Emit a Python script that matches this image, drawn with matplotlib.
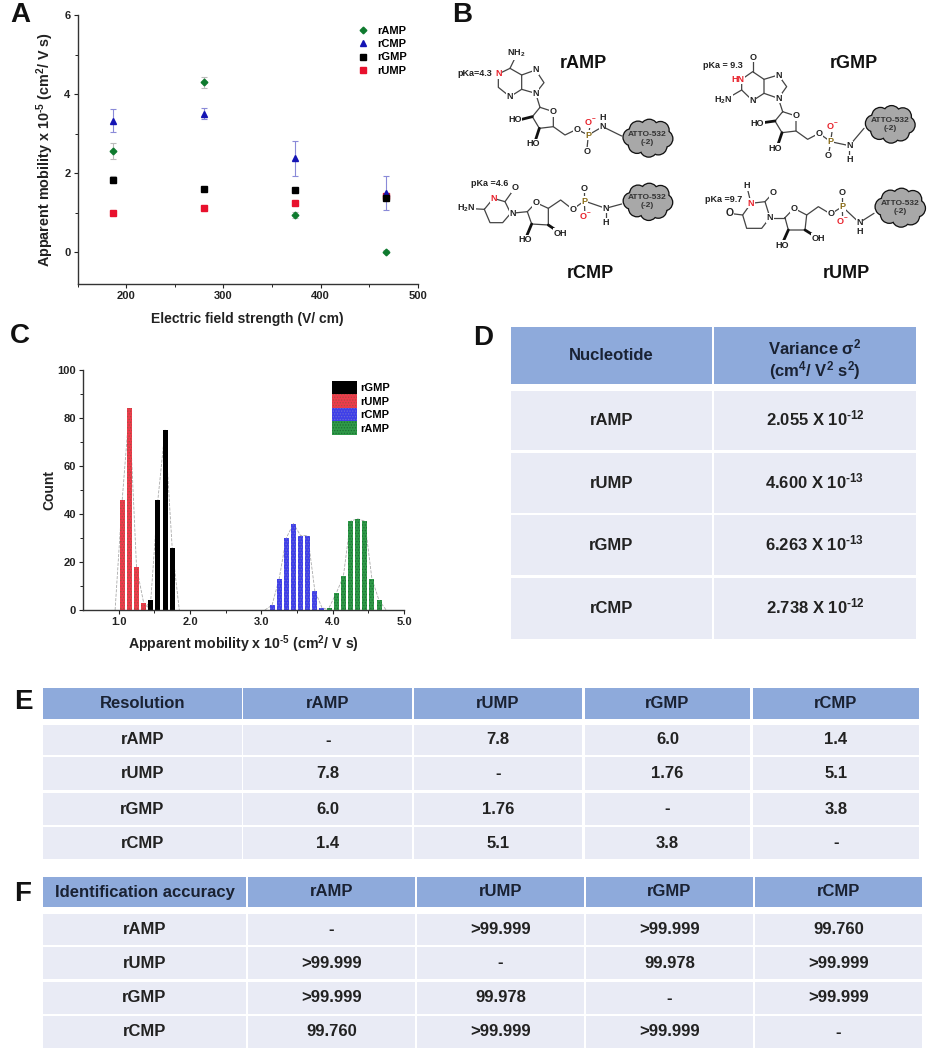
import matplotlib
matplotlib.use("Agg")
import matplotlib.pyplot as plt
from matplotlib.lines import Line2D
from matplotlib.patches import Rectangle, Circle, Patch

plt.rcParams["font.family"] = ["Liberation Sans", "DejaVu Sans"]
plt.rcParams["font.weight"] = "bold"
plt.rcParams["mathtext.fontset"] = "custom"
plt.rcParams["mathtext.rm"] = "Liberation Sans:bold"
plt.rcParams["mathtext.default"] = "rm"
plt.rcParams["hatch.linewidth"] = 0.6

W, H = 929, 1050
DARK = "#222222"
HEAD = "#8eaadb"
ROW = "#e9ebf5"

# panel A data
field = [187, 280.5, 374, 467]
amp_mob = [2.57, 4.3, 0.95, 0.02]
amp_err = [0.2, 0.14, 0.08, 0.04]
cmp_mob = [3.33, 3.5, 2.38, 1.5]
cmp_err = [0.3, 0.14, 0.44, 0.42]
gmp_mob = [1.84, 1.61, 1.57, 1.38]
gmp_err = [0.08, 0.05, 0.05, 0.05]
ump_mob = [1.0, 1.13, 1.24, 1.42]
ump_err = [0.05, 0.05, 0.05, 0.05]

# panel C data
ump_bins = [0.95, 1.05, 1.15, 1.25, 1.35, 1.45]
ump_count = [0, 46, 84, 18, 3, 0]
gmp_bins = [1.35, 1.45, 1.55, 1.65, 1.75, 1.85]
gmp_count = [0, 4, 46, 75, 26, 0]
cmp_bins = [3.05, 3.15, 3.25, 3.35, 3.45, 3.55, 3.65, 3.75, 3.85, 3.95]
cmp_count = [0, 2, 13, 30, 36, 31, 31, 8, 1, 0]
amp_bins = [3.95, 4.05, 4.15, 4.25, 4.35, 4.45, 4.55, 4.65, 4.75]
amp_count = [1, 7, 14, 37, 38, 37, 13, 4, 0]

# tables
variance_names = ["rAMP", "rUMP", "rGMP", "rCMP"]
variance_vals = ["2.055 X 10$^{\\text{-12}}$", "4.600 X 10$^{\\text{-13}}$", "6.263 X 10$^{\\text{-13}}$", "2.738 X 10$^{\\text{-12}}$"]
nucleotides = ["rAMP", "rUMP", "rGMP", "rCMP"]
resolution = [["-", "7.8", "6.0", "1.4"],
              ["7.8", "-", "1.76", "5.1"],
              ["6.0", "1.76", "-", "3.8"],
              ["1.4", "5.1", "3.8", "-"]]
accuracy = [["-", ">99.999", ">99.999", "99.760"],
            [">99.999", "-", "99.978", ">99.999"],
            [">99.999", "99.978", "-", ">99.999"],
            ["99.760", ">99.999", ">99.999", "-"]]

MOBILITY_LABEL = "Apparent mobility x 10$^{\\text{-5}}$ (cm$^{2}$/ V s)"

fig = plt.figure(figsize=(W / 100, H / 100), dpi=100)


def axes_px(left, top, right, bottom):
    return fig.add_axes([left / W, 1 - bottom / H, (right - left) / W, (bottom - top) / H])


def style(ax):
    for s in ["top", "right"]:
        ax.spines[s].set_visible(False)
    for s in ["left", "bottom"]:
        ax.spines[s].set_color("#333333")
        ax.spines[s].set_linewidth(1.0)
    ax.tick_params(which="major", length=3, width=0.8, labelsize=8, pad=2, colors=DARK)
    ax.tick_params(which="minor", length=2, width=0.7, colors=DARK)


# A: scatter, rUMP goes under rCMP and rGMP where they overlap
ax_a = axes_px(77.5, 15, 418, 284)
series = {"rAMP": (amp_mob, amp_err, "D", "#0e7a2e", 3.4),
          "rUMP": (ump_mob, ump_err, "s", "#e8112d", 4),
          "rCMP": (cmp_mob, cmp_err, "^", "#1414b4", 5),
          "rGMP": (gmp_mob, gmp_err, "s", "black", 4)}
for name, (y, err, mk, col, ms) in series.items():
    ax_a.errorbar(field, y, yerr=err, fmt=mk, color=col, ms=ms, ecolor="#8a8ad8" if name == "rCMP" else "#bbbbbb",
                  elinewidth=0.8, capsize=2, capthick=0.8, linestyle="none")
ax_a.set_xlim(150, 500)
ax_a.set_ylim(-0.8, 6)
ax_a.set_xticks([200, 300, 400, 500])
ax_a.set_xticks([150, 250, 350, 450], minor=True)
ax_a.set_yticks([0, 2, 4, 6])
ax_a.set_yticks([1, 3, 5], minor=True)
style(ax_a)
ax_a.set_xlabel("Electric field strength (V/ cm)", fontsize=10, fontweight="bold", labelpad=8, color=DARK)
ax_a.set_ylabel(MOBILITY_LABEL, fontsize=10.4, fontweight="bold", labelpad=6, color=DARK)
a_handles = [Line2D([], [], linestyle="none", marker=series[n][2], color=series[n][3], ms=series[n][4], label=n)
             for n in ["rAMP", "rCMP", "rGMP", "rUMP"]]
ax_a.legend(handles=a_handles, loc="upper left", bbox_to_anchor=(0.822, 0.96), frameon=False, fontsize=8,
            handlelength=1, handletextpad=0.76, labelspacing=0.3, borderpad=0, borderaxespad=0)

# C: histograms
ax_c = axes_px(83, 370, 404, 610)
bars = [("rGMP", gmp_bins, gmp_count, "black", "black", ""),
        ("rUMP", ump_bins, ump_count, "#ee3b4c", "#a8503f", "......"),
        ("rCMP", cmp_bins, cmp_count, "#3f3fe8", "#6a6ad8", "......"),
        ("rAMP", amp_bins, amp_count, "#2f9a48", "#1c6e34", "......")]
for name, b, c, face, edge, hatch in bars:
    ax_c.plot(b, c, color="#aaaaaa", lw=0.6, ls="--", zorder=1)
    ax_c.bar(b, c, width=0.07, color=face, edgecolor=edge, hatch=hatch, linewidth=0, zorder=2)
ax_c.set_xlim(0.5, 5.0)
ax_c.set_ylim(0, 100)
ax_c.set_xticks([1, 2, 3, 4, 5])
ax_c.set_xticklabels(["1.0", "2.0", "3.0", "4.0", "5.0"])
ax_c.set_xticks([1.5, 2.5, 3.5, 4.5], minor=True)
ax_c.set_yticks([0, 20, 40, 60, 80, 100])
ax_c.set_yticks([10, 30, 50, 70, 90], minor=True)
style(ax_c)
ax_c.set_xlabel(MOBILITY_LABEL, fontsize=10.2, fontweight="bold", labelpad=5, color=DARK)
ax_c.set_ylabel("Count", fontsize=10, fontweight="bold", labelpad=1, color=DARK)
leg_handles = [Patch(facecolor=f, edgecolor=e, hatch=h, linewidth=0, label=n) for n, _, _, f, e, h in bars]
ax_c.legend(handles=leg_handles, loc="upper left", bbox_to_anchor=(0.775, 0.955), frameon=False, fontsize=8,
            handlelength=2.25, handleheight=1.49, labelspacing=0.0, handletextpad=0.35, borderpad=0, borderaxespad=0)

# overlay in picture pixels for tables, panel letters and structures
ov = fig.add_axes([0, 0, 1, 1], zorder=5)
ov.set_xlim(0, W)
ov.set_ylim(H, 0)
ov.axis("off")
ov.patch.set_alpha(0)

for letter, x, y in [("A", 10, 22), ("B", 452, 22), ("C", 10, 343), ("D", 473, 345), ("E", 14, 709), ("F", 14, 901)]:
    ov.text(x, y, letter, fontsize=20, fontweight="bold", va="baseline", ha="left", color="#111111")


def cell(x0, x1, y0, y1, color, text=None, size=12, tcolor=DARK, lift=1.5):
    ov.add_patch(Rectangle((x0, y0), x1 - x0, y1 - y0, facecolor=color, edgecolor="none"))
    if text is not None:
        ov.text((x0 + x1) / 2, (y0 + y1) / 2 - lift, text, ha="center", va="center_baseline", fontsize=size,
                fontweight="bold", color=tcolor, linespacing=1.05)


# D: variance table
dx = [(511, 712), (714, 916)]
cell(*dx[0], 327, 384, HEAD, "Nucleotide", 12, "#1a2233")
cell(*dx[1], 327, 384, HEAD, "Variance σ$^{2}$\n(cm$^{4}$/ V$^{2}$ s$^{2}$)", 12, "#1a2233", lift=-1)
d_rows = [(391, 450), (453, 513), (515, 575), (578, 639)]
for (y0, y1), nm, val in zip(d_rows, variance_names, variance_vals):
    cell(*dx[0], y0, y1, ROW, nm, 12)
    cell(*dx[1], y0, y1, ROW, val, 12, lift=3.5)


def grid_table(xs, head_y, rows_y, corner, values):
    heads = [corner] + nucleotides
    for (x0, x1), t in zip(xs, heads):
        cell(x0, x1, head_y[0], head_y[1], HEAD, t, 12, "#1a2233")
    for i, (y0, y1) in enumerate(rows_y):
        cell(xs[0][0], xs[0][1], y0, y1, ROW, nucleotides[i], 12)
        for j in range(4):
            cell(xs[j + 1][0], xs[j + 1][1], y0, y1, ROW, values[i][j], 12)


grid_table([(43, 242), (243.5, 412), (414, 582), (585, 750), (753, 919)], (688, 719),
           [(725, 755), (757, 790), (793, 825), (827, 859)], "Resolution", resolution)
grid_table([(43, 246), (248, 415), (417, 584), (586, 753), (755, 922)], (877, 907),
           [(914, 945), (947, 979), (982, 1014), (1016, 1048)], "Identification accuracy", accuracy)


# B: structures, coordinates are in a 3x sketch space of the panel
def sx(x):
    return 440 + x / 3


def sy(y):
    return y / 3


def bonds(chain, lw=0.9, color="#444444"):
    ov.plot([sx(p[0]) for p in chain], [sy(p[1]) for p in chain], color=color, lw=lw, solid_capstyle="round", zorder=6)


def atom(x, y, t, color="#222222", size=6.5):
    ov.text(sx(x), sy(y), t, fontsize=size, fontweight="bold", color=color, ha="center", va="center", zorder=7,
            bbox=dict(facecolor="white", edgecolor="none", pad=0.3))


def wedge(a, b):
    bonds([a, b], lw=2.0, color="#111111")


def cloud(x0, y0, x1, y1, t):
    w, h = (x1 - x0) / 3, (y1 - y0) / 3
    cx, cy = sx((x0 + x1) / 2), sy((y0 + y1) / 2)
    lobes = [(-0.3, -0.02, 0.25), (-0.18, -0.22, 0.25), (0.03, -0.27, 0.25), (0.24, -0.21, 0.25), (0.31, 0.02, 0.25),
             (0.2, 0.22, 0.25), (0.02, 0.28, 0.25), (-0.2, 0.18, 0.25), (0, 0, 0.4)]
    for dxx, dyy, r in lobes:
        ov.add_patch(Circle((cx + dxx * w, cy + dyy * h), r * h, facecolor="#111111", edgecolor="none", zorder=6))
    for dxx, dyy, r in lobes:
        ov.add_patch(Circle((cx + dxx * w, cy + dyy * h), r * h - 1.3, facecolor="#a8a8a8", edgecolor="none", zorder=6.1))
    ov.text(cx, cy, t + "\n(-2)", fontsize=6, fontweight="bold", ha="center", va="center", color="#333333", zorder=7)


def sugar(c1, o, c4, c3, c2, c5, o5, p, ho2, ho3):
    bonds([c1, o, c4, c3, c2, c1])
    bonds([c4, c5, o5, p])
    wedge(c2, ho2)
    wedge(c3, ho3)


RED = "#e8202a"
PHOS = "#8a6d1a"

# rAMP
bonds([(175, 222), (175, 262), (210, 290), (245, 268), (245, 225), (210, 205), (175, 222)])
bonds([(245, 225), (287, 210), (312, 248), (287, 280), (245, 268)])
bonds([(210, 205), (228, 168)])
bonds([(287, 280), (300, 322)])
sugar((300, 322), (340, 335), (340, 380), (298, 385), (277, 350), (375, 405), (410, 388), (445, 405), (245, 358), (285, 425))
bonds([(445, 405), (452, 368)])
bonds([(445, 405), (440, 456)])
bonds([(445, 405), (488, 380), (545, 408)])
bonds([(488, 380), (488, 352)])
atom(230, 160, "NH$_{2}$")
atom(175, 222, "N", RED)
atom(210, 290, "N")
atom(287, 210, "N")
atom(287, 280, "N")
atom(340, 335, "O")
atom(225, 358, "HO")
atom(278, 432, "HO")
atom(410, 388, "O")
atom(445, 405, "P", PHOS)
atom(452, 368, "O$^{-}$", RED)
atom(440, 456, "O")
atom(488, 380, "N")
atom(488, 352, "H")
atom(105, 220, "pKa=4.3", size=6.5)
cloud(543, 358, 703, 470, "ATTO-532")

# rGMP
bonds([(905, 238), (905, 270), (938, 302), (972, 280), (972, 238), (938, 215), (905, 238)])
bonds([(972, 238), (1015, 225), (1040, 260), (1015, 295), (972, 280)])
bonds([(938, 215), (938, 172)])
bonds([(905, 270), (850, 302)])
bonds([(1015, 295), (1028, 335)])
sugar((1028, 335), (1068, 348), (1068, 393), (1026, 398), (1005, 363), (1103, 418), (1137, 400), (1172, 425), (955, 370), (1010, 445))
bonds([(1172, 425), (1178, 380)])
bonds([(1172, 425), (1165, 468)])
bonds([(1172, 425), (1228, 437), (1272, 385)])
bonds([(1228, 437), (1228, 480)])
atom(938, 172, "O")
atom(893, 238, "HN", RED)
atom(850, 302, "H$_{2}$N")
atom(938, 302, "N")
atom(1015, 225, "N")
atom(1015, 295, "N")
atom(1068, 348, "O")
atom(952, 370, "HO")
atom(1005, 445, "HO")
atom(1137, 400, "O")
atom(1172, 425, "P", PHOS)
atom(1178, 380, "O$^{-}$", RED)
atom(1165, 468, "O")
atom(1228, 437, "N")
atom(1228, 480, "H")
atom(850, 196, "pKa = 9.3")
cloud(1270, 317, 1430, 428, "ATTO-532")

# rCMP
bonds([(133, 628), (160, 595), (195, 605), (212, 640), (188, 668), (150, 668), (133, 628)])
bonds([(133, 628), (78, 625)])
bonds([(195, 605), (225, 563)])
bonds([(212, 640), (262, 635)])
sugar((262, 635), (288, 608), (325, 625), (325, 675), (275, 672), (362, 600), (398, 628), (433, 603), (255, 720), (362, 700))
bonds([(433, 603), (433, 565)])
bonds([(433, 603), (435, 650)])
bonds([(433, 603), (497, 625), (545, 612)])
bonds([(497, 625), (497, 668)])
atom(78, 625, "H$_{2}$N")
atom(160, 595, "N", RED)
atom(225, 563, "O")
atom(218, 640, "N")
atom(288, 608, "O")
atom(255, 720, "HO")
atom(362, 700, "OH")
atom(398, 628, "O")
atom(433, 603, "P", PHOS)
atom(433, 565, "O")
atom(435, 650, "O$^{-}$", RED)
atom(497, 625, "N")
atom(497, 668, "H")
atom(148, 552, "pKa =4.6")
cloud(543, 550, 703, 660, "ATTO-532")

# rUMP
bonds([(933, 610), (975, 605), (990, 653), (965, 685), (920, 685), (908, 645), (933, 610)])
bonds([(933, 610), (920, 557)])
bonds([(975, 605), (1000, 578)])
bonds([(908, 645), (868, 640)])
bonds([(990, 653), (1035, 653)])
sugar((1035, 653), (1062, 625), (1100, 645), (1095, 690), (1045, 690), (1135, 620), (1172, 642), (1207, 620), (1025, 735), (1135, 715))
bonds([(1207, 620), (1207, 578)])
bonds([(1207, 620), (1208, 665)])
bonds([(1207, 620), (1258, 668), (1302, 640)])
bonds([(1258, 668), (1258, 693)])
atom(920, 557, "H")
atom(933, 610, "N", RED)
atom(1000, 578, "O")
atom(868, 640, "O", size=7.5)
atom(990, 653, "N")
atom(1062, 625, "O")
atom(1025, 735, "HO")
atom(1135, 715, "OH")
atom(1172, 642, "O")
atom(1207, 620, "P", PHOS)
atom(1207, 578, "O")
atom(1208, 665, "O$^{-}$", RED)
atom(1258, 668, "N")
atom(1258, 693, "H")
atom(850, 597, "pKa =9.7")
cloud(1300, 565, 1460, 680, "ATTO-532")

for t, x, y in [("rAMP", 430, 190), ("rGMP", 1243, 190), ("rCMP", 450, 820), ("rUMP", 1218, 820)]:
    ov.text(sx(x), sy(y), t, fontsize=13, fontweight="bold", ha="center", va="center", color="#111111")

fig.savefig("out.png", dpi=100, facecolor="white")
